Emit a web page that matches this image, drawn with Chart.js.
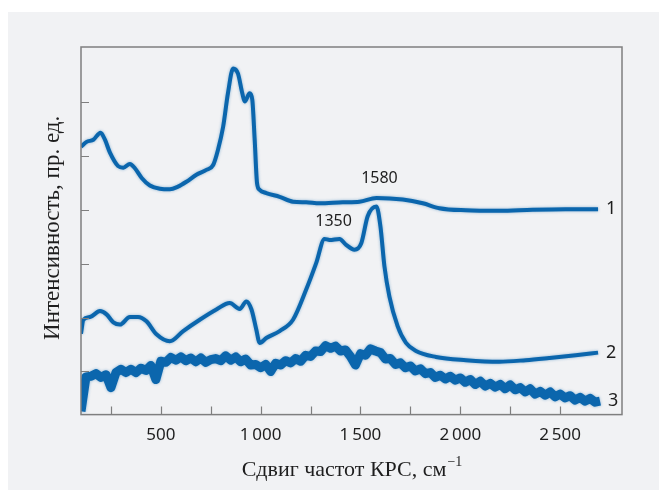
<!DOCTYPE html>
<html lang="ru">
<head>
<meta charset="utf-8">
<title>Спектры КРС</title>
<script src="https://cdn.jsdelivr.net/npm/chart.js@4.4.1/dist/chart.umd.min.js"></script>
<style>
  html, body { margin: 0; padding: 0; background: #fff; }
  #grafico { display: block; }
</style>
</head>
<body>
<canvas id="grafico" width="659" height="490"></canvas>
<script>
// спектр 1
const sdvig1 = [100, 128, 162, 198, 220, 245, 286, 312, 345, 370, 404, 445, 495, 545, 586, 628, 678, 728, 762, 786,
  812, 836, 862, 886, 908, 920, 945, 958, 970, 982, 995, 1028, 1095, 1162, 1228, 1295, 1412, 1495, 1580, 1712,
  1812, 1895, 2028, 2195, 2362, 2528, 2690]
const int1 = [4.17, 4.26, 4.30, 4.43, 4.30, 4.06, 3.81, 3.78, 3.85, 3.77, 3.59, 3.45, 3.39, 3.38, 3.43, 3.52, 3.65, 3.74, 3.83, 4.11,
  4.54, 5.16, 5.62, 5.53, 5.16, 5.01, 5.16, 5.04, 4.30, 3.49, 3.37, 3.31, 3.24, 3.15, 3.14, 3.12, 3.14, 3.15, 3.22, 3.19,
  3.12, 3.03, 2.99, 2.98, 3.00, 3.01, 3.01]

// спектр 2
const sdvig2 = [100, 112, 145, 195, 228, 262, 295, 345, 386, 428, 478, 545, 612, 695, 778, 845, 895, 928, 954, 978,
  995, 1028, 1095, 1162, 1228, 1278, 1320, 1345, 1395, 1428, 1470, 1504, 1536, 1580, 1600, 1620, 1645, 1686, 1728, 1778,
  1878, 2028, 2195, 2328, 2445, 2578, 2690]
const int2 = [0.70, 0.96, 1.01, 1.12, 1.06, 0.91, 0.87, 1.01, 1.01, 0.93, 0.69, 0.56, 0.75, 0.96, 1.15, 1.27, 1.16, 1.30, 1.15, 0.78,
  0.53, 0.62, 0.75, 0.96, 1.52, 2.01, 2.46, 2.44, 2.46, 2.35, 2.26, 2.38, 2.88, 3.06, 2.69, 1.95, 1.39, 0.84, 0.53, 0.38,
  0.27, 0.21, 0.18, 0.21, 0.25, 0.30, 0.35]

// спектр 3 (шумный)
const sdvig3 = [
  100, 125, 150, 175, 200, 225, 250, 275, 300, 325, 350, 375, 400, 425, 450, 475,
  500, 525, 550, 575, 600, 625, 650, 675, 700, 725, 750, 775, 800, 825, 850, 875,
  900, 925, 950, 975, 1000, 1025, 1050, 1075, 1100, 1125, 1150, 1175, 1200, 1225, 1250, 1275,
  1300, 1325, 1350, 1375, 1400, 1425, 1450, 1475, 1500, 1525, 1550, 1575, 1600, 1625, 1650, 1675,
  1700, 1725, 1750, 1775, 1800, 1825, 1850, 1875, 1900, 1925, 1950, 1975, 2000, 2025, 2050, 2075,
  2100, 2125, 2150, 2175, 2200, 2225, 2250, 2275, 2300, 2325, 2350, 2375, 2400, 2425, 2450, 2475,
  2500, 2525, 2550, 2575, 2600, 2625, 2650, 2675, 2700]
const int3 = [
  -0.74, -0.10, -0.09, -0.04, -0.11, -0.06, -0.30, -0.02, 0.04, -0.02, 0.04, -0.02, 0.06, 0.02, 0.11, -0.15,
  0.19, 0.17, 0.26, 0.21, 0.27, 0.20, 0.25, 0.18, 0.25, 0.17, 0.22, 0.24, 0.20, 0.29, 0.21, 0.27,
  0.18, 0.23, 0.12, 0.13, 0.07, 0.13, 0.00, 0.15, 0.12, 0.20, 0.16, 0.24, 0.19, 0.30, 0.28, 0.38,
  0.37, 0.48, 0.43, 0.47, 0.38, 0.40, 0.28, 0.12, 0.33, 0.30, 0.42, 0.38, 0.35, 0.23, 0.24, 0.13,
  0.16, 0.07, 0.10, 0.01, 0.05, -0.04, -0.02, -0.11, -0.07, -0.14, -0.09, -0.16, -0.12, -0.20, -0.15, -0.24,
  -0.18, -0.27, -0.22, -0.29, -0.24, -0.32, -0.25, -0.34, -0.30, -0.38, -0.32, -0.42, -0.37, -0.44, -0.38, -0.47,
  -0.42, -0.49, -0.45, -0.53, -0.48, -0.55, -0.50, -0.57, -0.55]

const nomeraKrivyh = ["1", "2", "3"]
const xTicks = [500, 1000, 1500, 2000, 2500]
const xTickLabels = ["500", "1\u2009000", "1\u2009500", "2\u2009000", "2\u2009500"]
const xMelkie = [250, 500, 750, 1000, 1250, 1500, 1750, 2000, 2250, 2500]
const yTicks = [0, 1, 2, 3, 4, 5]
const pikiSdvig = [1350, 1580]
const pikiKrivaya = [1, 0] // над какой кривой подпись

const SINIY = "#0b66ad"
const canvas = document.querySelector("#grafico")

function toPoints(xs, ys) {
  return xs.map((v, i) => ({ x: v, y: ys[i] }))
}

// фон, рамка, засечки и подписи
const oformlenie = {
  id: "oformlenie",
  beforeDraw(chart) {
    const ctx = chart.ctx
    ctx.save()
    ctx.fillStyle = "#ffffff"
    ctx.fillRect(0, 0, chart.width, chart.height)
    ctx.fillStyle = "#f1f2f4"
    ctx.fillRect(8, 12, chart.width - 8, chart.height - 12)
    ctx.restore()
  },
  beforeDatasetDraw(chart) {
    chart.ctx.save()
    chart.ctx.shadowColor = "rgba(11, 101, 171, 0.45)"
    chart.ctx.shadowBlur = 3
  },
  afterDatasetDraw(chart) {
    chart.ctx.restore()
  },
  afterDraw(chart) {
    const { ctx, chartArea: a } = chart
    const x = chart.scales.x
    const y = chart.scales.y
    ctx.save()

    ctx.strokeStyle = "#7f7f7f"
    ctx.lineWidth = 1.5
    ctx.strokeRect(a.left, a.top, a.right - a.left, a.bottom - a.top)

    ctx.lineWidth = 1.2
    ctx.beginPath()
    xMelkie.forEach(v => {
      const px = Math.round(x.getPixelForValue(v)) + 0.5
      ctx.moveTo(px, a.bottom)
      ctx.lineTo(px, a.bottom - 8)
    })
    yTicks.forEach(v => {
      const py = Math.round(y.getPixelForValue(v)) + 0.5
      ctx.moveTo(a.left, py)
      ctx.lineTo(a.left + 8, py)
    })
    ctx.stroke()

    // номера кривых у правого конца
    ctx.fillStyle = "#1e1e1e"
    ctx.font = "18px 'Noto Sans'"
    ctx.textAlign = "left"
    ctx.textBaseline = "middle"
    chart.data.datasets.forEach((ds, i) => {
      const last = ds.data[ds.data.length - 1]
      ctx.fillText(nomeraKrivyh[i], x.getPixelForValue(last.x) + 8, y.getPixelForValue(last.y))
    })

    // положения пиков
    ctx.font = "16px 'Noto Sans'"
    ctx.textAlign = "center"
    pikiSdvig.forEach((v, i) => {
      const ds = chart.data.datasets[pikiKrivaya[i]].data
      let blizh = ds[0]
      ds.forEach(p => { if (Math.abs(p.x - v) < Math.abs(blizh.x - v)) blizh = p })
      ctx.fillText(String(v), x.getPixelForValue(v) + 3, y.getPixelForValue(blizh.y) - 19)
    })

    // подписи осей
    ctx.font = "22px 'Liberation Serif'"
    ctx.textBaseline = "alphabetic"
    const osnova = "Сдвиг частот КРС, см"
    const stepen = "\u22121"
    const w1 = ctx.measureText(osnova).width
    ctx.font = "14px 'Liberation Serif'"
    const w2 = ctx.measureText(stepen).width
    const x0 = (a.left + a.right) / 2 - (w1 + w2) / 2
    ctx.font = "22px 'Liberation Serif'"
    ctx.textAlign = "left"
    ctx.fillText(osnova, x0, 476)
    ctx.font = "14px 'Liberation Serif'"
    ctx.fillText(stepen, x0 + w1 + 1, 466)

    ctx.translate(53, (a.top + a.bottom) / 2 - 3)
    ctx.rotate(-Math.PI / 2)
    ctx.font = "23px 'Liberation Serif'"
    ctx.textAlign = "center"
    ctx.textBaseline = "middle"
    ctx.fillText("Интенсивность, пр. ед.", 0, 0)
    ctx.restore()
  }
}

const config = {
  type: "line",
  data: {
    datasets: [
      { data: toPoints(sdvig1, int1), borderWidth: 4, cubicInterpolationMode: "monotone" },
      { data: toPoints(sdvig2, int2), borderWidth: 4, cubicInterpolationMode: "monotone" },
      { data: toPoints(sdvig3, int3), borderWidth: 9, tension: 0 }
    ].map(ds => Object.assign(ds, {
      borderColor: SINIY,
      pointRadius: 0,
      fill: false,
      borderJoinStyle: "round",
      borderCapStyle: "butt"
    }))
  },
  options: {
    responsive: false,
    devicePixelRatio: 1,
    animation: false,
    layout: { padding: { left: 81, right: 37, top: 47, bottom: 35 } },
    plugins: { legend: { display: false }, tooltip: { enabled: false } },
    scales: {
      x: {
        type: "linear",
        min: 100,
        max: 2810,
        grid: { display: false, drawTicks: false },
        border: { display: false },
        afterBuildTicks: scale => { scale.ticks = xTicks.map(v => ({ value: v })) },
        ticks: {
          padding: 10,
          color: "#1e1e1e",
          font: { family: "'Noto Sans'", size: 17 },
          maxRotation: 0,
          autoSkip: false,
          callback: (val) => xTickLabels[xTicks.indexOf(val)]
        }
      },
      y: {
        type: "linear",
        display: false,
        min: -0.8,
        max: 6.02
      }
    }
  },
  plugins: [oformlenie]
}

new Chart(canvas, config)
</script>
</body>
</html>
